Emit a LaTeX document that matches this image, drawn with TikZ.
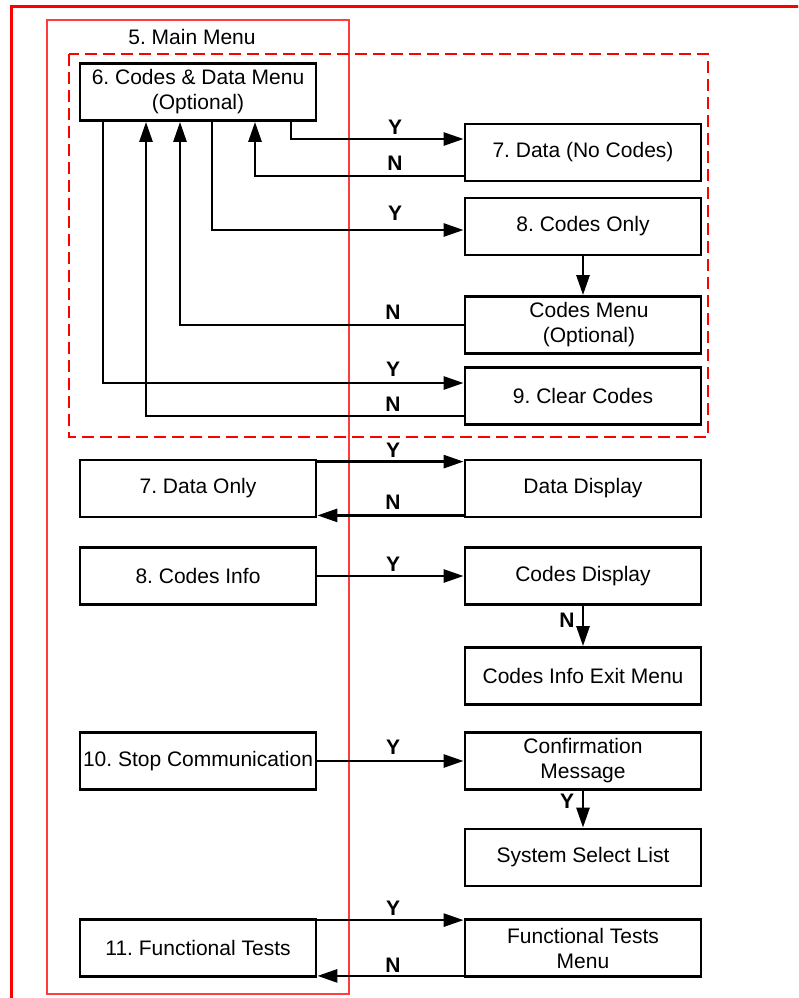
\documentclass[tikz,border=0pt]{standalone}
\usepackage{fontspec}
\setmainfont{Liberation Sans}
\usetikzlibrary{arrows.meta}
\definecolor{rd}{RGB}{255,0,0}
\definecolor{rdl}{RGB}{255,60,60}
\tikzset{
  box/.style={draw=black, line width=2.8pt, fill=white, minimum width=236pt, minimum height=57pt, align=center, inner sep=0pt, font=\fontsize{21}{25}\selectfont},
  arr/.style={line width=2.7pt, -{Triangle[length=20pt,width=13pt]}},
  lab/.style={font=\fontsize{21}{21}\selectfont\bfseries, inner sep=0pt},
  title/.style={font=\fontsize{21}{25}\selectfont, inner sep=0pt}
}
\frenchspacing
\begin{document}
\begin{tikzpicture}[x=1pt,y=-1pt]
\clip (0,0) rectangle (798,998);
\fill[white] (0,0) rectangle (798,998);
% frames
\draw[rd, line width=3pt] (11,7) rectangle (830,1030);
\draw[rdl, line width=1.5pt] (47,20) rectangle (349,994);
\draw[rd, line width=2.6pt, dash pattern=on 12pt off 6pt] (69,54) rectangle (708,437);
\node[title] (mm) at (192,37) {5. Main Menu};
% boxes
\node[box] (b6) at (198,92) {6. Codes \& Data Menu\\(Optional)};
\node[box] (b7a) at (583,152.5) {7. Data (No Codes)};
\node[box] (b8a) at (583,226.5) {8. Codes Only};
\node[box] (bcm) at (583,325) {\hspace*{12pt}Codes Menu\\\hspace*{12pt}(Optional)};
\node[box] (b9) at (583,396) {9. Clear Codes};
\node[box] (b7) at (198,488.5) {7. Data Only};
\node[box] (bdd) at (583,488.5) {Data Display};
\node[box] (b8) at (198,576) {8. Codes Info};
\node[box] (bcd) at (583,576) {Codes Display};
\node[box] (bce) at (583,676) {Codes Info Exit Menu};
\node[box] (b10) at (198,761) {10. Stop Communication};
\node[box] (bcf) at (583,761) {Confirmation\\Message};
\node[box] (bss) at (583,857.5) {System Select List};
\node[box] (b11) at (198,948) {11. Functional Tests};
\node[box] (bft) at (583,948) {Functional Tests\\Menu};
% connectors top section
\draw[arr] ([xshift=93pt]b6.south) |- ([yshift=13.5pt]b7a.west);
\draw[arr] ([yshift=-23.5pt]b7a.west) -| ([xshift=57pt]b6.south);
\draw[arr] ([xshift=14pt]b6.south) |- ([yshift=-3.5pt]b8a.west);
\draw[arr] (b8a.south) -- (bcm.north);
\draw[arr] (bcm.west) -| ([xshift=-18pt]b6.south);
\draw[arr] ([xshift=-95pt]b6.south) |- ([yshift=13pt]b9.west);
\draw[arr] ([yshift=-20pt]b9.west) -| ([xshift=-52pt]b6.south);
% lower section
\draw[arr] ([yshift=-3pt]b7.north east) -- ([yshift=-3pt]bdd.north west);
\draw[arr] ([yshift=3pt]bdd.south west) -- ([yshift=3pt]b7.south east);
\draw[arr] (b8.east) -- (bcd.west);
\draw[arr] (bcd.south) -- (bce.north);
\draw[arr] (b10.east) -- (bcf.west);
\draw[arr] (bcf.south) -- (bss.north);
\draw[arr] ([yshift=-2pt]b11.north east) -- ([yshift=-2pt]bft.north west);
\draw[arr] ([yshift=2pt]bft.south west) -- ([yshift=2pt]b11.south east);
% labels
\node[lab] (l1) at (395,127) {Y};
\node[lab] (l2) at (395,163) {N};
\node[lab] (l3) at (395,213) {Y};
\node[lab] (l4) at (393,312) {N};
\node[lab] (l5) at (393,369) {Y};
\node[lab] (l6) at (393,404) {N};
\node[lab] (l7) at (393,450) {Y};
\node[lab] (l8) at (393,502) {N};
\node[lab] (l9) at (393,564) {Y};
\node[lab] (l10) at (567,620) {N};
\node[lab] (l11) at (393,747) {Y};
\node[lab] (l12) at (567,801) {Y};
\node[lab] (l13) at (393,908) {Y};
\node[lab] (l14) at (393,965) {N};
\end{tikzpicture}
\end{document}
